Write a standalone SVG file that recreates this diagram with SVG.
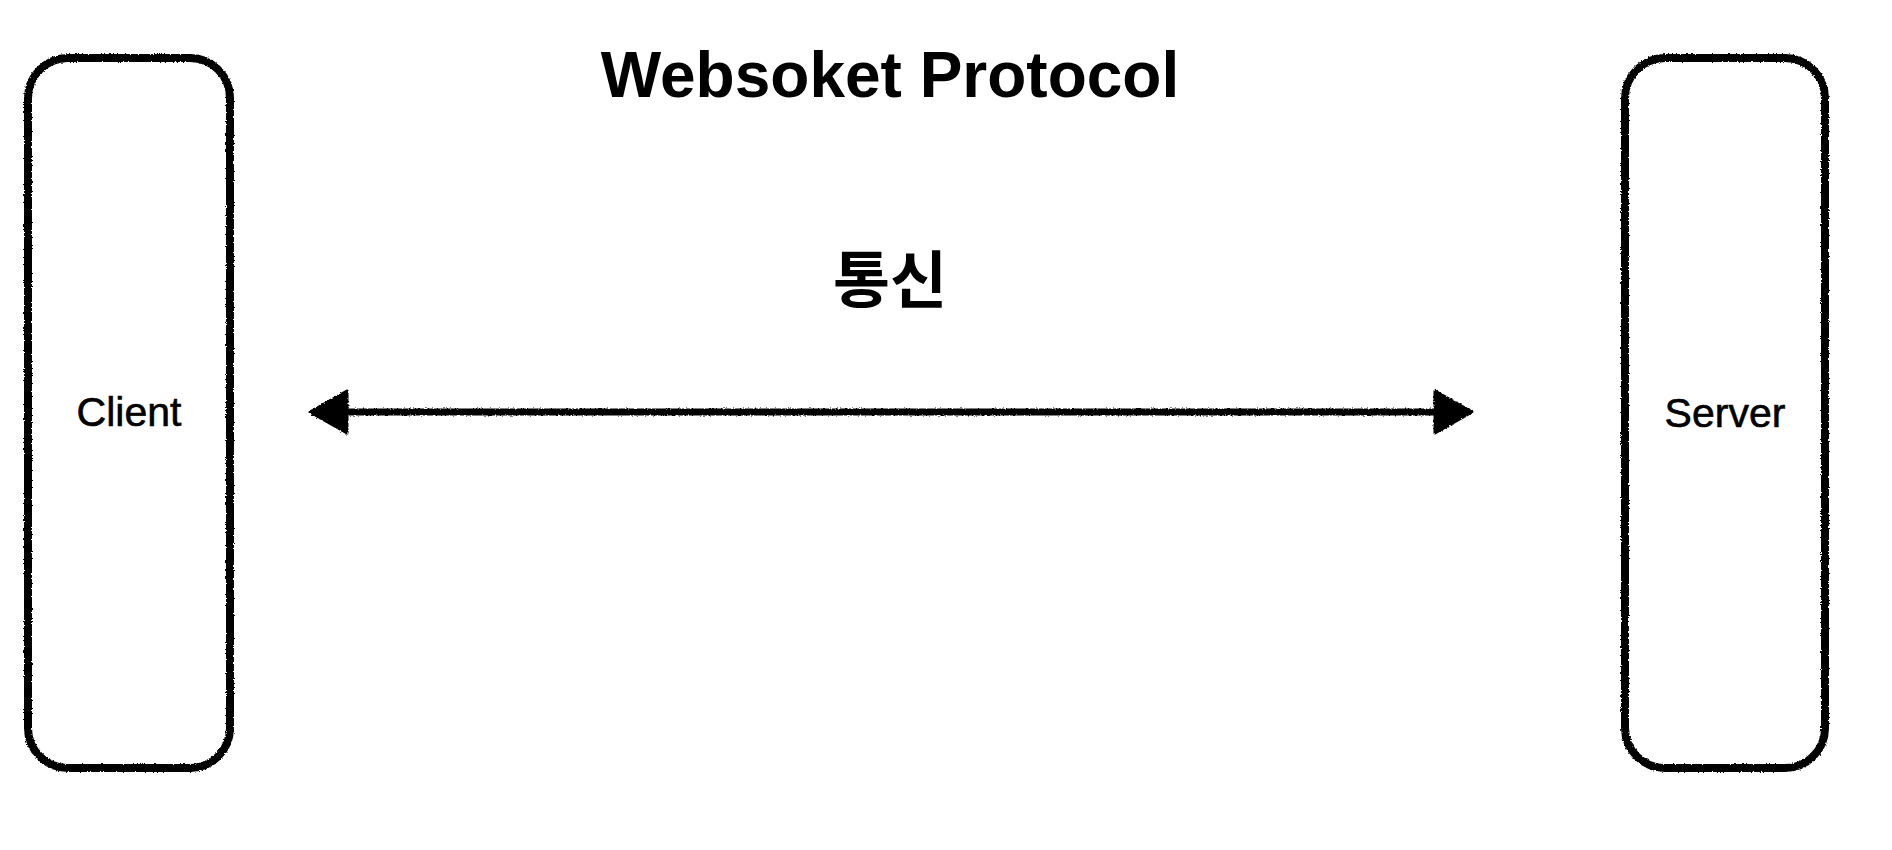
<svg xmlns="http://www.w3.org/2000/svg" width="1892" height="850" viewBox="0 0 1892 850">
  <style>
    .box { fill: none; stroke: #000; stroke-width: 8; }
    .label { font-family: "Liberation Sans", Arial, sans-serif; font-size: 41px; fill: #000; text-anchor: middle; stroke: #000; stroke-width: 0.6; }
    .title { font-family: "Liberation Sans", Arial, sans-serif; font-size: 64px; font-weight: bold; fill: #000; text-anchor: middle; }
    .ko { font-family: "Liberation Sans", "Noto Sans CJK KR", sans-serif; font-size: 62px; font-weight: bold; fill: #000; text-anchor: middle; }
    .conn { stroke: #000; stroke-width: 7; fill: none; }
  </style>
  <defs>
    <filter id="rough" filterUnits="userSpaceOnUse" x="0" y="0" width="1892" height="850">
      <feTurbulence type="fractalNoise" baseFrequency="0.6" numOctaves="2" seed="3" result="n"/>
      <feDisplacementMap in="SourceGraphic" in2="n" scale="3" xChannelSelector="R" yChannelSelector="G"/>
    </filter>
    <marker id="head" markerUnits="userSpaceOnUse" markerWidth="44" markerHeight="52" viewBox="-2 -26 44 52" refX="5" refY="0" orient="auto-start-reverse">
      <path d="M0,-21 L37,0 L0,21 Z" fill="#000" stroke="#000" stroke-width="3" stroke-linejoin="round"/>
    </marker>
  </defs>
  <rect width="1892" height="850" fill="#fff"/>
  <text class="title" x="890" y="97">Websoket Protocol</text>
  <text class="ko" x="890" y="303">통신</text>
  <g id="client">
    <rect class="box" x="28" y="58" width="202" height="710" rx="40" ry="40" filter="url(#rough)"/>
    <text class="label" x="129" y="426">Client</text>
  </g>
  <g id="server">
    <rect class="box" x="1625" y="58" width="200" height="710" rx="40" ry="40" filter="url(#rough)"/>
    <text class="label" x="1725" y="427">Server</text>
  </g>
  <g id="connectors">
    <line class="conn" x1="342" y1="412" x2="1440" y2="412" marker-start="url(#head)" marker-end="url(#head)" filter="url(#rough)"/>
  </g>
</svg>
